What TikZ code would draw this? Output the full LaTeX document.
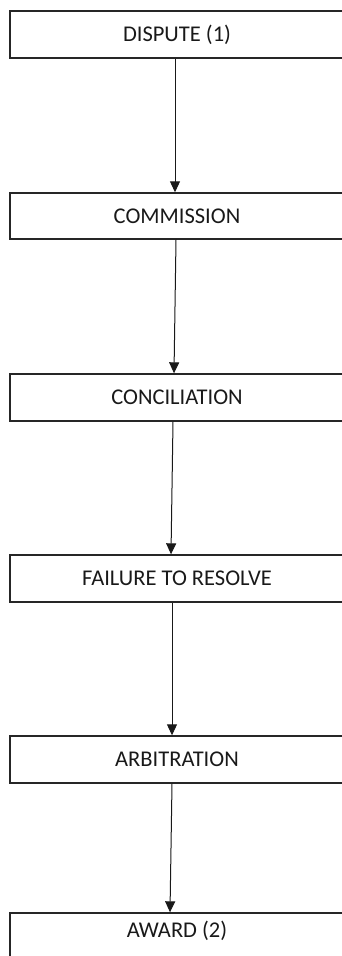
\documentclass[tikz,border=0pt]{standalone}
\usepackage{fontspec}
\setmainfont{Carlito}
\usetikzlibrary{arrows.meta}
\begin{document}
\begin{tikzpicture}[x=1pt,y=-1pt,
  lbl/.style={font=\fontsize{22.5}{26}\selectfont,text=black!90},
  stepbox/.style={draw=black!85,line width=1.4pt,minimum width=334pt,inner sep=0pt,
    lbl,anchor=center},
  conn/.style={line width=1pt,draw=black!90,-{Triangle[length=11pt,width=10pt]}}]
\useasboundingbox (0,0) rectangle (342,956);
\node[stepbox,minimum height=47pt] (a) at (177,34.5) {DISPUTE (1)};
\node[stepbox,minimum height=46pt] (b) at (177,216) {COMMISSION};
\node[stepbox,minimum height=47pt] (c) at (177,397.5) {CONCILIATION};
\node[stepbox,minimum height=47pt] (d) at (177,578.5) {FAILURE TO RESOLVE};
\node[stepbox,minimum height=47pt] (e) at (177,759.5) {ARBITRATION};
\node[stepbox,minimum height=50pt] (f) at (177,938) {};
\node[lbl] (ft) at (177,931) {AWARD (2)};
\draw[conn] ([xshift=-2pt]a.south) -- ([xshift=-2pt]b.north);
\draw[conn] ([xshift=-1pt]b.south) -- ([xshift=-3pt]c.north);
\draw[conn] ([xshift=-4pt]c.south) -- ([xshift=-6pt]d.north);
\draw[conn] ([xshift=-5pt]d.south) -- ([xshift=-5pt]e.north);
\draw[conn] ([xshift=-5pt]e.south) -- ([xshift=-7pt]f.north);
\end{tikzpicture}
\end{document}
